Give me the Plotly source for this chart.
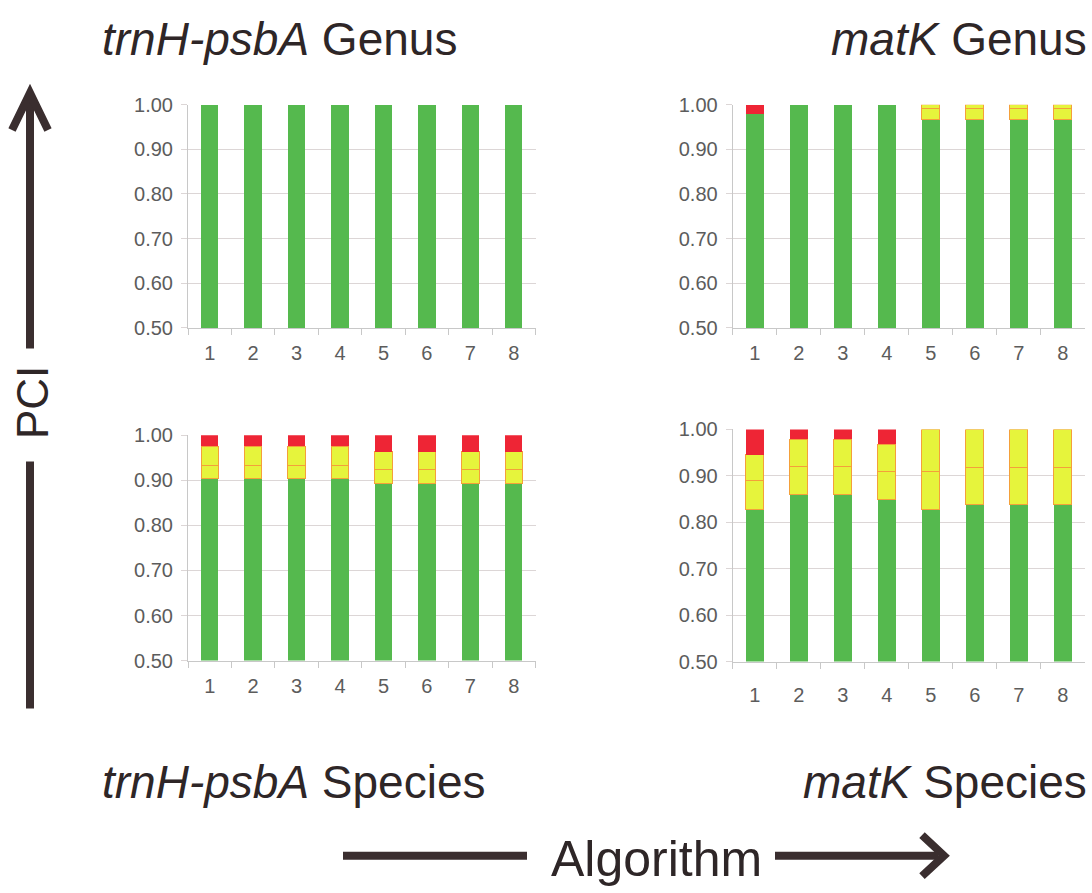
import plotly.graph_objects as go

W, H = 1092, 893

algorithms = ["1", "2", "3", "4", "5", "6", "7", "8"]
y_tick_vals = [0.5, 0.6, 0.7, 0.8, 0.9, 1.0]
y_tick_text = ["0.50", "0.60", "0.70", "0.80", "0.90", "1.00"]

# trnH-psbA Genus
trnh_genus_green = [1.0, 1.0, 1.0, 1.0, 1.0, 1.0, 1.0, 1.0]
trnh_genus_yellow_low = [None, None, None, None, None, None, None, None]
trnh_genus_yellow_high = [None, None, None, None, None, None, None, None]
trnh_genus_red = [None, None, None, None, None, None, None, None]

# matK Genus
matk_genus_green = [0.978, 1.0, 1.0, 1.0, 0.967, 0.967, 0.967, 0.967]
matk_genus_yellow_low = [None, None, None, None, 0.024, 0.024, 0.024, 0.024]
matk_genus_yellow_high = [None, None, None, None, 0.009, 0.009, 0.009, 0.009]
matk_genus_red = [0.022, None, None, None, None, None, None, None]

# trnH-psbA Species
trnh_species_green = [0.903, 0.903, 0.903, 0.903, 0.894, 0.894, 0.894, 0.894]
trnh_species_yellow_low = [0.031, 0.031, 0.031, 0.031, 0.030, 0.030, 0.030, 0.030]
trnh_species_yellow_high = [0.042, 0.042, 0.042, 0.042, 0.040, 0.040, 0.040, 0.040]
trnh_species_red = [0.024, 0.024, 0.024, 0.024, 0.036, 0.036, 0.036, 0.036]

# matK Species
matk_species_green = [0.828, 0.860, 0.860, 0.849, 0.828, 0.839, 0.839, 0.839]
matk_species_yellow_low = [0.061, 0.061, 0.061, 0.061, 0.081, 0.079, 0.079, 0.079]
matk_species_yellow_high = [0.057, 0.058, 0.058, 0.058, 0.091, 0.082, 0.082, 0.082]
matk_species_red = [0.054, 0.021, 0.021, 0.032, None, None, None, None]

GREEN = "#55b94e"
YELLOW = "#e6f43c"
RED = "#ee2535"
ORANGE = "#f4a03a"
DARK = "#2e2627"
TICK = "#5c5c5c"
GRID = "#dcd6d6"
FONT = "Liberation Sans, Arial, Helvetica, sans-serif"


def fx(px):
    return px / W


def fy(py):
    return 1 - py / H


panels = [
    dict(x=(188, 535.5), y=(325, 96), stand=7,
         data=(trnh_genus_green, trnh_genus_yellow_low, trnh_genus_yellow_high, trnh_genus_red)),
    dict(x=(732.7, 1084.7), y=(325, 96), stand=7,
         data=(matk_genus_green, matk_genus_yellow_low, matk_genus_yellow_high, matk_genus_red)),
    dict(x=(188, 535.5), y=(666, 435), stand=7,
         data=(trnh_species_green, trnh_species_yellow_low, trnh_species_yellow_high, trnh_species_red)),
    dict(x=(732.7, 1084.7), y=(667, 429), stand=15,
         data=(matk_species_green, matk_species_yellow_low, matk_species_yellow_high, matk_species_red)),
]

fig = go.Figure()
layout_axes = {}
for i, p in enumerate(panels):
    n = "" if i == 0 else str(i + 1)
    xa, ya = "x" + n, "y" + n
    green, ylow, yhigh, red = p["data"]
    segs = [
        (green, GREEN, GREEN, 0),
        (ylow, YELLOW, ORANGE, 1),
        (yhigh, YELLOW, ORANGE, 1),
        (red, RED, RED, 0),
    ]
    for vals, col, lcol, lw in segs:
        fig.add_trace(go.Bar(
            x=algorithms, y=vals, xaxis=xa, yaxis=ya,
            marker=dict(color=col, line=dict(color=lcol, width=lw)),
            width=0.4, showlegend=False, hoverinfo="skip",
        ))
    layout_axes["xaxis" + n] = dict(
        domain=[fx(p["x"][0]), fx(p["x"][1])], anchor=ya,
        type="category", categoryorder="array", categoryarray=algorithms,
        showgrid=False, showline=True, linecolor="#c8c8c8", linewidth=1,
        ticks="outside", tickson="boundaries", ticklen=6, tickcolor="#c8c8c8",
        tickfont=dict(family=FONT, size=20, color=TICK),
        ticklabelstandoff=p["stand"], zeroline=False, fixedrange=True,
    )
    layout_axes["yaxis" + n] = dict(
        domain=[fy(p["y"][0]), fy(p["y"][1])], anchor=xa,
        range=[0.5, 1.0], tickvals=y_tick_vals, ticktext=y_tick_text,
        showgrid=True, gridcolor=GRID, gridwidth=1,
        showline=True, linecolor="#c8c8c8", linewidth=1,
        ticks="outside", ticklen=6, tickcolor=GRID,
        tickfont=dict(family=FONT, size=20, color=TICK),
        ticklabelstandoff=4, zeroline=False, fixedrange=True,
    )

titles = [
    ("<i>trnH-psbA</i> Genus", 100, 29, "left"),
    ("<i>matK</i> Genus", 1089, 29, "right"),
    ("<i>trnH-psbA</i> Species", 100, 790, "left"),
    ("<i>matK</i> Species", 1089, 790, "right"),
]
annotations = []
for txt, x, y, anc in titles:
    annotations.append(dict(
        text=txt, x=fx(x), y=fy(y), xref="paper", yref="paper",
        xanchor=anc, yanchor="middle", showarrow=False,
        font=dict(family=FONT, size=46, color=DARK),
    ))
annotations.append(dict(
    text="Algorithm", x=fx(656), y=fy(869), xref="paper", yref="paper",
    xanchor="center", yanchor="middle", showarrow=False,
    font=dict(family=FONT, size=50, color=DARK),
))
annotations.append(dict(
    text="PCI", x=fx(32), y=fy(402), xref="paper", yref="paper",
    xanchor="center", yanchor="middle", showarrow=False, textangle=-90,
    font=dict(family=FONT, size=44, color=DARK),
))

ARROW = "#3a2e2f"


def line(x0, y0, x1, y1, w=8):
    return dict(type="line", xref="paper", yref="paper",
                x0=fx(x0), y0=fy(y0), x1=fx(x1), y1=fy(y1),
                line=dict(color=ARROW, width=w))


def head(pts, w=8):
    path = "M " + " L ".join(f"{fx(a)},{fy(b)}" for a, b in pts)
    return dict(type="path", xref="paper", yref="paper", path=path,
                line=dict(color=ARROW, width=w))


shapes = [
    line(30, 90, 30, 346),
    line(30, 462, 30, 715),
    head([(12, 122), (30, 84), (48, 122)]),
    line(343, 866, 527, 866),
    line(775, 866, 938, 866),
    head([(922, 845), (944, 866), (922, 887)]),
]

fig.update_layout(
    width=W, height=H, margin=dict(l=0, r=0, t=0, b=0),
    paper_bgcolor="white", plot_bgcolor="white",
    barmode="stack", bargap=0.6,
    annotations=annotations, shapes=shapes,
    **layout_axes,
)

fig.write_html(
    "out.html",
    config={"displayModeBar": False},
    post_script="document.body.style.margin='0';document.body.style.padding='0';"
                "document.documentElement.style.overflow='hidden';",
)
